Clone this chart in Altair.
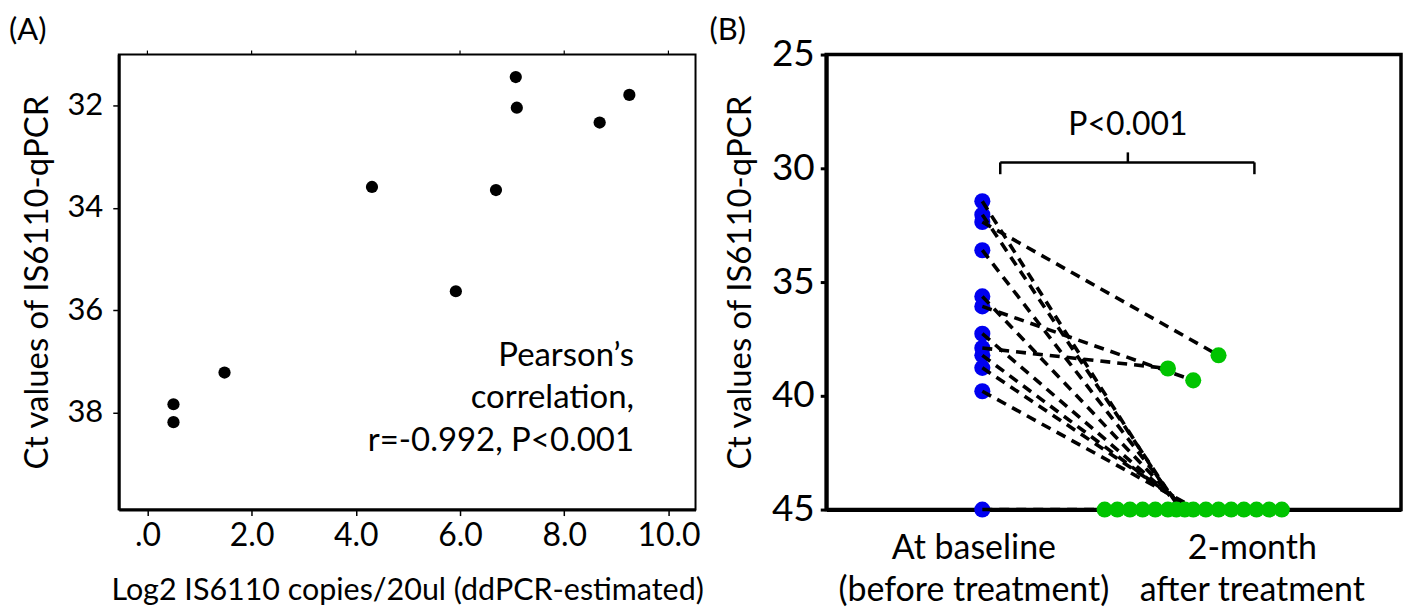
import altair as alt
import pandas as pd

FONT = "Lato"

# ---------------- Panel A data ----------------
a_log2_copies = [0.50, 0.50, 1.48, 4.31, 5.92, 6.69, 7.07, 7.09, 8.68, 9.25]
a_ct_values = [37.84, 38.19, 37.22, 33.59, 35.63, 33.65, 31.44, 32.04, 32.33, 31.79]
a_x_ticks = [0, 2, 4, 6, 8, 10]
a_y_ticks = [32, 34, 36, 38]
a_note_lines = ["Pearson\u2019s", "correlation,", "r=-0.992, P<0.001"]
a_note_ct = [36.89, 37.71, 38.56]
a_note_x = [9.34, 9.34, 9.34]

# ---------------- Panel B data ----------------
b_baseline_ct = [31.45, 32.04, 32.36, 33.60, 35.63, 36.07, 37.27, 37.90, 38.22, 38.77, 39.80, 45.0]
b_line_end_x = [1.93, 1.94, 2.12, 1.95, 1.96, 2.00, 1.97, 1.88, 1.98, 2.00, 2.02, 1.58]
b_line_end_ct = [45.0, 45.0, 38.22, 45.0, 45.0, 39.32, 45.0, 38.80, 45.0, 45.0, 45.0, 45.0]
b_followup_x = [1.88, 2.00, 2.12,
                1.58, 1.64, 1.70, 1.76, 1.82, 1.88, 1.92, 1.96,
                2.00, 2.06, 2.12, 2.18, 2.24, 2.30, 2.36, 2.42]
b_followup_ct = [38.80, 39.32, 38.22] + [45.0] * 16
b_categories = ["At baseline\n(before treatment)", "2-month\nafter treatment"]
b_category_x = [0.96, 2.28]
b_y_ticks = [25, 30, 35, 40, 45]
b_bracket_x = [1.085, 2.29]
b_bracket_ct = [29.74, 30.26]
b_bracket_mid_x = [1.69]
b_bracket_mid_ct = [29.30]
b_p_text = ["P<0.001"]
b_p_ct = [28.10]

# ---------------- Panel A ----------------
WA, HA = 578, 456
dfA = pd.DataFrame({"x": a_log2_copies, "y": a_ct_values})
xA = alt.Scale(domain=[-0.55, 10.52], nice=False, zero=False)
yA = alt.Scale(domain=[31, 39.9], reverse=True, nice=False, zero=False)

ptsA = alt.Chart(dfA).mark_circle(size=150, color="black", opacity=1).encode(
    x=alt.X("x:Q", scale=xA, axis=alt.Axis(
        values=a_x_ticks,
        labelExpr="datum.value == 0 ? '.0' : format(datum.value, '.1f')",
        title="Log2 IS6110 copies/20ul (ddPCR-estimated)",
        grid=False, domainWidth=3, domainColor="black",
        tickColor="black", tickWidth=1.5, tickSize=6,
        labelFontSize=32, titleFontSize=30.5, labelPadding=5, titlePadding=24,
        labelColor="black", titleColor="black", titleFontWeight="normal",
        labelFont=FONT, titleFont=FONT)),
    y=alt.Y("y:Q", scale=yA, axis=alt.Axis(
        values=a_y_ticks, title="Ct values of IS6110-qPCR",
        grid=False, domainWidth=3, domainColor="black",
        tickColor="black", tickWidth=1.5, tickSize=6,
        labelFontSize=31, titleFontSize=33, labelPadding=10, titlePadding=12,
        labelColor="black", titleColor="black", titleFontWeight="normal",
        labelFont=FONT, titleFont=FONT)),
)

topA = alt.Chart(pd.DataFrame({"x": a_x_ticks})).mark_rule(color="black", strokeWidth=1.2).encode(
    x=alt.X("x:Q", scale=xA),
    y=alt.value(-4), y2=alt.value(0),
)

noteA = alt.Chart(pd.DataFrame({"x": a_note_x, "y": a_note_ct, "t": a_note_lines})).mark_text(
    align="right", baseline="middle", fontSize=33, font=FONT, color="black"
).encode(x=alt.X("x:Q", scale=xA), y=alt.Y("y:Q", scale=yA), text="t:N")

labA = alt.Chart(pd.DataFrame({"t": ["(A)"]})).mark_text(
    align="left", baseline="top", fontSize=31, font=FONT, color="black"
).encode(x=alt.value(-110), y=alt.value(-39), text="t:N")

panelA = alt.layer(ptsA, topA, noteA, labA).properties(
    width=WA, height=HA,
    view=alt.ViewBackground(stroke="black", strokeWidth=2),
)

# ---------------- Panel B ----------------
WB, HB = 576, 456
xB = alt.Scale(domain=[0.26, 2.985], nice=False, zero=False)
yB = alt.Scale(domain=[25, 45], reverse=True, nice=False, zero=False)

blue = alt.Chart(pd.DataFrame({"x": [1.0] * len(b_baseline_ct), "y": b_baseline_ct})).mark_circle(
    size=260, color="#0000F0", opacity=1
).encode(
    x=alt.X("x:Q", scale=xB, axis=alt.Axis(
        values=[1, 2], labels=False, title=None, grid=False,
        domainWidth=4, domainColor="black", tickColor="black",
        tickWidth=3, tickSize=6)),
    y=alt.Y("y:Q", scale=yB, axis=alt.Axis(
        values=b_y_ticks, title="Ct values of IS6110-qPCR",
        grid=False, domainWidth=4, domainColor="black",
        tickColor="black", tickWidth=3, tickSize=6,
        labelFontSize=37, titleFontSize=33, labelPadding=6, titlePadding=14,
        labelColor="black", titleColor="black", titleFontWeight="normal",
        labelFont=FONT, titleFont=FONT)),
)

dfL = pd.DataFrame({"x": [1.0] * len(b_baseline_ct), "y": b_baseline_ct,
                    "x2": b_line_end_x, "y2": b_line_end_ct})
lines = alt.Chart(dfL).mark_rule(color="black", strokeWidth=3.6, strokeDash=[10, 7]).encode(
    x=alt.X("x:Q", scale=xB), y=alt.Y("y:Q", scale=yB), x2="x2:Q", y2="y2:Q")

green = alt.Chart(pd.DataFrame({"x": b_followup_x, "y": b_followup_ct})).mark_circle(
    size=260, color="#00C400", opacity=1
).encode(x=alt.X("x:Q", scale=xB), y=alt.Y("y:Q", scale=yB))

brH = alt.Chart(pd.DataFrame({"x": [b_bracket_x[0]], "x2": [b_bracket_x[1]], "y": [b_bracket_ct[0]]})).mark_rule(
    color="black", strokeWidth=2.5).encode(x=alt.X("x:Q", scale=xB), x2="x2:Q", y=alt.Y("y:Q", scale=yB))
brV = alt.Chart(pd.DataFrame({"x": b_bracket_x, "y": [b_bracket_ct[0]] * 2, "y2": [b_bracket_ct[1]] * 2})).mark_rule(
    color="black", strokeWidth=2.5).encode(x=alt.X("x:Q", scale=xB), y=alt.Y("y:Q", scale=yB), y2="y2:Q")
brM = alt.Chart(pd.DataFrame({"x": b_bracket_mid_x, "y": b_bracket_mid_ct, "y2": [b_bracket_ct[0]]})).mark_rule(
    color="black", strokeWidth=2.5).encode(x=alt.X("x:Q", scale=xB), y=alt.Y("y:Q", scale=yB), y2="y2:Q")
pText = alt.Chart(pd.DataFrame({"x": b_bracket_mid_x, "y": b_p_ct, "t": b_p_text})).mark_text(
    align="center", baseline="middle", fontSize=32, font=FONT, color="black"
).encode(x=alt.X("x:Q", scale=xB), y=alt.Y("y:Q", scale=yB), text="t:N")

cats = alt.Chart(pd.DataFrame({"x": b_category_x, "t": b_categories})).mark_text(
    align="center", baseline="middle", fontSize=34, font=FONT, color="black",
    lineBreak="\n", lineHeight=42
).encode(x=alt.X("x:Q", scale=xB), y=alt.value(HB + 40), text="t:N")

labB = alt.Chart(pd.DataFrame({"t": ["(B)"]})).mark_text(
    align="left", baseline="top", fontSize=31, font=FONT, color="black"
).encode(x=alt.value(-117), y=alt.value(-39), text="t:N")

panelB = alt.layer(blue, lines, green, brH, brV, brM, pText, cats, labB).properties(
    width=WB, height=HB,
    view=alt.ViewBackground(stroke="black", strokeWidth=3.5),
)

chart = alt.hconcat(panelA, panelB, spacing=3).properties(
    padding={"left": 0, "top": 4, "right": 0, "bottom": 0}
).configure(font=FONT).configure_view(stroke="black")

chart.save("out.html", embed_options={"renderer": "svg", "actions": False})
